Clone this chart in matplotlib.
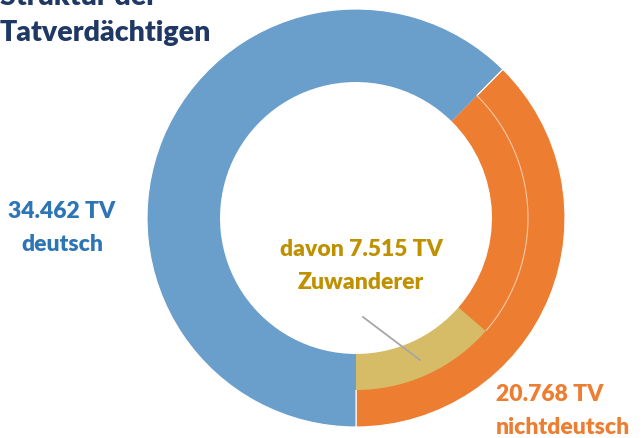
import matplotlib
matplotlib.use("Agg")
import matplotlib.pyplot as plt
from matplotlib.patches import Arc

# Data
outer_labels = ["nichtdeutsch", "deutsch"]
outer_values = [20768, 34462]
inner_labels = ["Zuwanderer", "sonstige nichtdeutsch", "deutsch"]
inner_values = [7515, 20768 - 7515, 34462]

BLUE = "#6A9FCC"
ORANGE = "#ED7D31"
YELLOW = "#D6BC66"

plt.rcParams['font.family'] = ['Lato', 'DejaVu Sans']

fig = plt.figure(figsize=(6.43, 4.39), dpi=100)
ax = fig.add_axes([0, 0, 1, 1])

cx, cy = 356, 439 - 219
R_out, R_mid, R_in = 209, 172, 136

ax.pie(outer_values, colors=[ORANGE, BLUE], startangle=-90, counterclock=True,
       radius=R_out, center=(cx, cy), frame=True,
       wedgeprops=dict(width=R_out - R_in, edgecolor='white', linewidth=0.8))
ax.pie(inner_values, colors=[YELLOW, ORANGE, BLUE], startangle=-90, counterclock=True,
       radius=R_mid, center=(cx, cy), frame=True,
       wedgeprops=dict(width=R_mid - R_in, edgecolor='none', linewidth=0))
total = sum(inner_values)
a0 = -90 + 360 * inner_values[0] / total
a1 = -90 + 360 * (inner_values[0] + inner_values[1]) / total
ax.add_patch(Arc((cx, cy), 2 * R_mid, 2 * R_mid, theta1=a0, theta2=a1,
                 color='#F6C8A6', lw=0.8))
ax.set_xlim(0, 643)
ax.set_ylim(0, 439)
ax.set_aspect('equal')
ax.axis('off')

# leader line
ax.plot([363, 420], [439 - 318, 439 - 361], color='#A6A6A6', lw=1.3)

title_kw = dict(color='#1F3864', fontsize=20.5, fontweight='heavy', ha='left', va='baseline')
ax.text(0, 439 - 5, "Struktur der", **title_kw)
ax.text(0, 439 - 41, "Tatverdächtigen", **title_kw)

lab_kw = dict(fontsize=16.5, fontweight='heavy', linespacing=1.7)
ax.text(62, 439 - 228, "34.462 TV\ndeutsch", color='#2E75B6', ha='center', va='center', **lab_kw)
ax.text(361, 439 - 266, "davon 7.515 TV\nZuwanderer", color='#BF9000', ha='center', va='center', **lab_kw)
ax.text(496, 439 - 411, "20.768 TV\nnichtdeutsch", color=ORANGE, ha='left', va='center', **lab_kw)

fig.savefig("out.png", dpi=100)
